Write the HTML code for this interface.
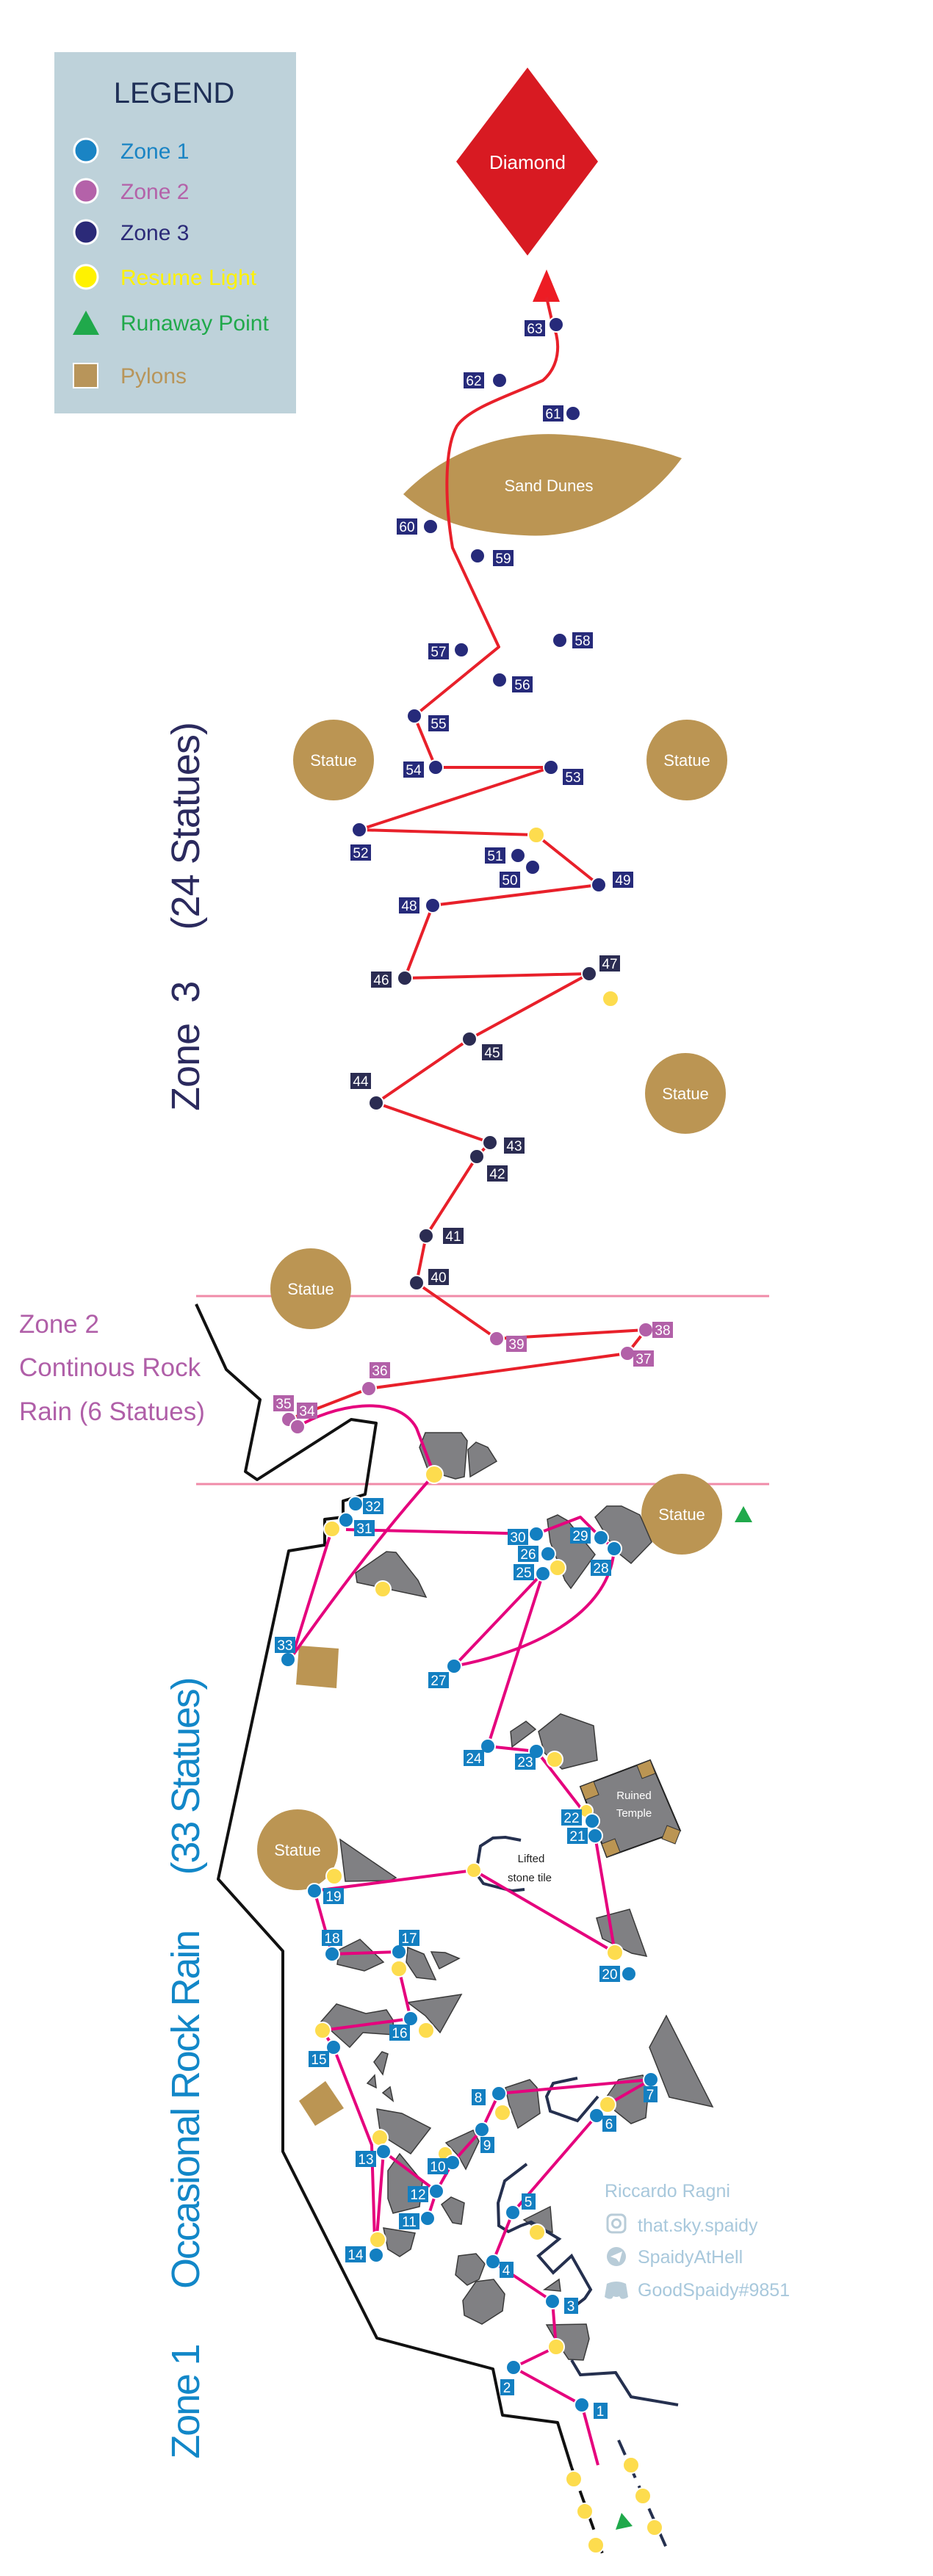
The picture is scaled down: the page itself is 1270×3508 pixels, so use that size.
<!DOCTYPE html>
<html><head><meta charset="utf-8"><style>
html,body{margin:0;padding:0;background:#fff}
svg{display:block}
text{font-family:"Liberation Sans",sans-serif}
.r{fill:none;stroke:#e8202a;stroke-width:4;stroke-linejoin:round}
.m{fill:none;stroke:#e5007d;stroke-width:4;stroke-linejoin:round}
.rk{fill:#808083;stroke:#3a3a3a;stroke-width:1.5}
.nv{fill:none;stroke:#25304f;stroke-width:4}
.d3{fill:#262a7a;stroke:#fff;stroke-width:2}
.d3b{fill:#2b2c52;stroke:#fff;stroke-width:2}
.d2{fill:#b260a8;stroke:#fff;stroke-width:2}
.d1{fill:#137fc1;stroke:#fff;stroke-width:2}
.y{fill:#fddc4e;stroke:#fff;stroke-width:2}
.st{fill:#bb9553}
.stt{fill:#fff;font-size:22px;text-anchor:middle}
.lb{fill:#fff;font-size:19px;text-anchor:middle}
</style></head><body>
<svg width="1270" height="3508" viewBox="0 0 1270 3508" xmlns="http://www.w3.org/2000/svg">
<!-- legend -->
<rect x="74" y="71" width="329" height="492" fill="#bed2da"/>
<text x="237" y="140" font-size="40" fill="#1f3057" text-anchor="middle">LEGEND</text>
<circle cx="117" cy="205" r="16" fill="#1a84c4" stroke="#fff" stroke-width="3"/>
<circle cx="117" cy="260" r="16" fill="#b462a9" stroke="#fff" stroke-width="3"/>
<circle cx="117" cy="316" r="16" fill="#2b2a78" stroke="#fff" stroke-width="3"/>
<circle cx="117" cy="377" r="16" fill="#fff200" stroke="#fff" stroke-width="3"/>
<polygon points="117,423 99,456 135,456" fill="#20a94b"/>
<rect x="100" y="495" width="33" height="33" fill="#b8955a" stroke="#fff" stroke-width="2"/>
<g font-size="30">
<text x="164" y="216" fill="#1a84c4">Zone 1</text>
<text x="164" y="271" fill="#b462a9">Zone 2</text>
<text x="164" y="327" fill="#2b2a78">Zone 3</text>
<text x="164" y="388" fill="#fff200">Resume Light</text>
<text x="164" y="450" fill="#20a94b">Runaway Point</text>
<text x="164" y="522" fill="#b8955a">Pylons</text>
</g>
<!-- diamond -->
<polygon points="718,92 814,220 718,348 621,220" fill="#d81a22"/>
<text x="718" y="230" font-size="26" fill="#fff" text-anchor="middle">Diamond</text>
<!-- sand dunes -->
<path d="M549,673 C600,620 680,585 769,592 C830,596 890,610 928,624 C880,690 800,735 713,729 C640,725 590,710 549,673 Z" fill="#bb9553"/>
<text x="747" y="669" font-size="22" fill="#fff" text-anchor="middle">Sand Dunes</text>
<!-- statues -->
<g>
<circle class="st" cx="454" cy="1035" r="55"/><text class="stt" x="454" y="1043">Statue</text>
<circle class="st" cx="935" cy="1035" r="55"/><text class="stt" x="935" y="1043">Statue</text>
<circle class="st" cx="933" cy="1489" r="55"/><text class="stt" x="933" y="1497">Statue</text>
</g>
<!-- zone lines -->
<line x1="267" y1="1765" x2="1047" y2="1765" stroke="#f08ba8" stroke-width="3"/>
<line x1="267" y1="2021" x2="1047" y2="2021" stroke="#f08ba8" stroke-width="3"/>
<circle class="st" cx="423" cy="1755" r="55"/><text class="stt" x="423" y="1763">Statue</text>
<circle class="st" cx="928" cy="2062" r="55"/><text class="stt" x="928" y="2070">Statue</text>
<circle class="st" cx="405" cy="2519" r="55"/><text class="stt" x="405" y="2527">Statue</text>
<polygon points="1012,2051 1000,2073 1024,2073" fill="#20a94b"/>
<!-- vertical texts -->
<text transform="translate(271,1248) rotate(-90)" text-anchor="middle" font-size="54" fill="#2b2a5e" textLength="530" xml:space="preserve">Zone  3     (24 Statues)</text>
<text transform="translate(271,2816) rotate(-90)" text-anchor="middle" font-size="54" fill="#1287c8" textLength="1065" xml:space="preserve">Zone 1      Occasional Rock Rain      (33 Statues)</text>
<g font-size="35" fill="#b05fa8">
<text x="26" y="1815">Zone 2</text>
<text x="26" y="1874">Continous Rock</text>
<text x="26" y="1934">Rain (6 Statues)</text>
</g>
<!-- black boundary -->
<polyline fill="none" stroke="#111" stroke-width="4" stroke-linejoin="round" points="267,1776 308,1865 354,1906 334,2004 350,2015 478,1933 512,1938 497,2035 467,2044 467,2066 442,2069 442,2104 393,2112 297,2559 385,2657 385,2930 513,3184 671,3226 684,3289 759,3299 778,3360"/>
<line x1="778" y1="3360" x2="822" y2="3483" stroke="#111" stroke-width="4" stroke-dasharray="22,12"/>
<line x1="842" y1="3323" x2="909" y2="3474" stroke="#25304f" stroke-width="4" stroke-dasharray="22,12"/>
<!-- rocks -->
<g class="rk">
<polygon points="579,1951 628,1951 636,1962 632,2011 620,2014 583,2003 571,1971"/>
<polygon points="637,1974 648,1964 664,1971 676,1990 640,2011"/>
<polygon points="484,2142 526,2113 539,2114 569,2152 580,2175 486,2155"/>
<polygon points="745,2069 759,2063 773,2071 810,2117 777,2163 769,2152 749,2100"/>
<polygon points="810,2066 826,2051 846,2051 871,2063 887,2100 859,2129 838,2112"/>
<polygon points="695,2358 716,2344 729,2355 697,2379"/>
<polygon points="733,2358 763,2334 808,2350 813,2397 765,2409 741,2387"/>
<polygon points="463,2505 539,2557 531,2561 470,2562"/>
<polygon points="812,2612 857,2600 880,2664 860,2660 820,2640"/>
<polygon points="462,2655 490,2641 522,2672 496,2684 459,2675"/>
<polygon points="555,2652 577,2661 593,2696 567,2693 553,2672"/>
<polygon points="587,2658 606,2659 625,2667 598,2681"/>
<polygon points="437,2753 458,2729 498,2742 526,2737 535,2751 536,2771 494,2768 476,2788"/>
<polygon points="555,2727 628,2716 599,2768 579,2745"/>
<polygon points="509,2808 520,2794 528,2797 521,2825"/>
<polygon points="500,2837 510,2826 512,2843"/>
<polygon points="521,2850 531,2842 535,2861"/>
<polygon points="513,2872 547,2878 586,2898 559,2933 518,2907"/>
<polygon points="528,2956 544,2933 575,2971 571,3005 535,3014 528,2994"/>
<polygon points="601,3002 614,2992 632,3000 628,3029 616,3027"/>
<polygon points="522,3034 565,3041 559,3063 544,3073 528,3063"/>
<polygon points="607,2918 644,2901 652,2916 634,2954 624,2936"/>
<polygon points="688,2843 721,2832 731,2843 735,2878 705,2898 693,2866"/>
<polygon points="884,2788 907,2745 970,2869 911,2856"/>
<polygon points="826,2855 842,2832 875,2826 883,2843 879,2884 859,2892 834,2872"/>
<polygon points="713,3023 749,3005 752,3040 725,3031"/>
<polygon points="624,3072 648,3069 660,3083 652,3104 636,3112 620,3098"/>
<polygon points="648,3107 672,3104 687,3124 684,3147 656,3165 632,3153 630,3133"/>
<polygon points="741,3118 761,3104 763,3120"/>
<polygon points="744,3166 798,3165 802,3185 794,3214 774,3213 757,3188"/>
</g>
<!-- pylons -->
<polygon points="407,2241 461,2245 458,2299 403,2294" fill="#bb9553"/>
<polygon points="407,2861 443,2834 468,2871 429,2895" fill="#bb9553"/>
<!-- ruined temple -->
<polygon points="790,2433 885,2397 926,2493 826,2529" fill="#808083" stroke="#222" stroke-width="2"/>
<g fill="#bb9553" stroke="#333" stroke-width="1">
<polygon points="790,2433 808,2426 815,2444 797,2451"/>
<polygon points="867,2404 885,2397 892,2415 874,2422"/>
<polygon points="908,2486 926,2493 919,2511 901,2504"/>
<polygon points="826,2529 844,2522 837,2504 819,2511"/>
</g>
<text x="863" y="2450" font-size="15" fill="#fff" text-anchor="middle">Ruined</text>
<text x="863" y="2474" font-size="15" fill="#fff" text-anchor="middle">Temple</text>
<!-- lifted stone tile -->
<polyline class="nv" points="709,2506 688,2502 671,2503 654,2514 648,2551 658,2565 697,2575 714,2573"/>
<text x="723" y="2536" font-size="15" fill="#222" text-anchor="middle">Lifted</text>
<text x="721" y="2562" font-size="15" fill="#222" text-anchor="middle">stone tile</text>
<!-- navy outlines -->
<polyline class="nv" points="786,2830 753,2837 744,2855 749,2875 786,2888 814,2855"/>
<polyline class="nv" points="717,2947 687,2970 678,3000 679,3031 692,3039 709,3031 723,3026 761,3049 733,3072 753,3095 778,3072 804,3118 796,3130 778,3144"/>
<polyline class="nv" points="778,3214 790,3234 838,3231 859,3264 923,3275"/>
<!-- red path -->
<polygon points="744,367 725,411 762,411" fill="#ed1c24"/>
<path class="r" d="M744,405 L752,440 C765,470 760,500 739,518 C690,540 640,555 622,580 C605,610 605,680 616,746 L679,881 L564,975 L593,1045 L750,1045 L489,1130 L730,1137 L815,1205 L589,1233 L551,1332 L802,1326 L639,1415 L512,1502 L667,1556 L649,1575 L580,1683 L567,1747 L676,1823 L879,1811 L854,1843 L502,1891 L393,1933"/>
<!-- magenta -->
<g class="m">
<path d="M405,1943 C450,1915 540,1895 567,1945 L591,2008"/>
<path d="M591,2008 Q500,2110 398,2255"/>
<path d="M452,2082 L398,2255"/>
<path d="M471,2083 L730,2089 L790,2066 L818,2094 L836,2109"/>
<path d="M836,2109 C830,2200 720,2250 618,2269"/>
<path d="M733,2148 L618,2269"/>
<path d="M739,2143 L664,2378 L730,2385"/>
<path d="M737,2393 L795,2468"/>
<path d="M810,2500 L837,2659"/>
<path d="M428,2575 L645,2547 L837,2659"/>
<path d="M428,2575 L452,2661 L543,2658"/>
<path d="M543,2681 L559,2749 L439,2765 L454,2788 L506,2921 L510,3050"/>
<path d="M522,2930 L513,3046"/>
<path d="M522,2930 L594,2984 L582,3021"/>
<path d="M594,2984 L616,2945 L656,2900 L679,2851 L886,2832 L827,2866"/>
<path d="M812,2881 L698,3013 L671,3080 L752,3134 L757,3196 L699,3224 L792,3275 L814,3357"/>
</g>
<!-- zone3 dots -->
<g class="d3">
<circle cx="757" cy="442" r="10"/><circle cx="680" cy="518" r="10"/><circle cx="780" cy="563" r="10"/>
<circle cx="586" cy="717" r="10"/><circle cx="650" cy="757" r="10"/><circle cx="762" cy="872" r="10"/>
<circle cx="628" cy="885" r="10"/><circle cx="680" cy="926" r="10"/><circle cx="564" cy="975" r="10"/>
<circle cx="593" cy="1045" r="10"/><circle cx="750" cy="1045" r="10"/><circle cx="489" cy="1130" r="10"/>
<circle cx="705" cy="1165" r="10"/><circle cx="725" cy="1181" r="10"/><circle cx="815" cy="1205" r="10"/>
<circle cx="589" cy="1233" r="10"/>
</g>
<g class="d3b">
<circle cx="551" cy="1332" r="10"/><circle cx="802" cy="1326" r="10"/><circle cx="639" cy="1415" r="10"/>
<circle cx="512" cy="1502" r="10"/><circle cx="667" cy="1556" r="10"/><circle cx="649" cy="1575" r="10"/>
<circle cx="580" cy="1683" r="10"/><circle cx="567" cy="1747" r="10"/>
</g>
<g class="d2">
<circle cx="676" cy="1823" r="10"/><circle cx="879" cy="1811" r="10"/><circle cx="854" cy="1843" r="10"/>
<circle cx="502" cy="1891" r="10"/><circle cx="393" cy="1933" r="10"/><circle cx="405" cy="1943" r="10"/>
</g>
<!-- yellow -->
<g class="y">
<circle cx="730" cy="1137" r="11"/><circle cx="831" cy="1360" r="11"/><circle cx="591" cy="2008" r="12"/>
<circle cx="452" cy="2082" r="11"/><circle cx="521" cy="2164" r="11"/><circle cx="759" cy="2135" r="11"/>
<circle cx="755" cy="2396" r="11"/><circle cx="798" cy="2466" r="9"/><circle cx="455" cy="2555" r="11"/>
<circle cx="645" cy="2547" r="10"/><circle cx="837" cy="2659" r="11"/><circle cx="543" cy="2681" r="11"/>
<circle cx="580" cy="2765" r="11"/><circle cx="439" cy="2765" r="11"/><circle cx="517" cy="2911" r="11"/>
<circle cx="606" cy="2933" r="10"/><circle cx="514" cy="3050" r="11"/><circle cx="684" cy="2877" r="11"/>
<circle cx="827" cy="2866" r="11"/><circle cx="731" cy="3040" r="11"/><circle cx="757" cy="3196" r="11"/>
<circle cx="781" cy="3376" r="11"/><circle cx="796" cy="3420" r="11"/><circle cx="811" cy="3466" r="11"/>
<circle cx="859" cy="3357" r="11"/><circle cx="875" cy="3399" r="11"/><circle cx="891" cy="3442" r="11"/>
</g>
<polygon points="838,3445 846,3422 861,3440" fill="#20a94b"/>
<!-- zone1 dots -->
<g class="d1">
<circle cx="392" cy="2260" r="10"/><circle cx="484" cy="2048" r="10"/><circle cx="471" cy="2070" r="10"/>
<circle cx="730" cy="2089" r="10"/><circle cx="818" cy="2094" r="10"/><circle cx="836" cy="2109" r="10"/>
<circle cx="746" cy="2116" r="10"/><circle cx="739" cy="2143" r="10"/><circle cx="618" cy="2269" r="10"/>
<circle cx="664" cy="2378" r="10"/><circle cx="730" cy="2385" r="10"/><circle cx="806" cy="2480" r="10"/>
<circle cx="810" cy="2500" r="10"/><circle cx="856" cy="2688" r="10"/><circle cx="428" cy="2575" r="10"/>
<circle cx="452" cy="2661" r="10"/><circle cx="543" cy="2658" r="10"/><circle cx="559" cy="2749" r="10"/>
<circle cx="454" cy="2788" r="10"/><circle cx="522" cy="2930" r="10"/><circle cx="594" cy="2984" r="10"/>
<circle cx="582" cy="3021" r="10"/><circle cx="512" cy="3071" r="10"/><circle cx="616" cy="2945" r="10"/>
<circle cx="656" cy="2900" r="10"/><circle cx="679" cy="2851" r="10"/><circle cx="886" cy="2832" r="10"/>
<circle cx="812" cy="2881" r="10"/><circle cx="698" cy="3013" r="10"/><circle cx="671" cy="3080" r="10"/>
<circle cx="752" cy="3134" r="10"/><circle cx="699" cy="3224" r="10"/><circle cx="792" cy="3275" r="10"/>
</g>
<!-- labels zone3 -->
<g fill="#262a7a">
<rect x="714" y="436" width="28" height="22"/><rect x="631" y="507" width="28" height="22"/><rect x="739" y="552" width="28" height="22"/>
<rect x="540" y="706" width="28" height="22"/><rect x="671" y="749" width="28" height="22"/><rect x="779" y="861" width="28" height="22"/>
<rect x="583" y="876" width="28" height="22"/><rect x="697" y="921" width="28" height="22"/><rect x="583" y="974" width="28" height="22"/>
<rect x="549" y="1037" width="28" height="22"/><rect x="766" y="1047" width="28" height="22"/><rect x="477" y="1150" width="28" height="22"/>
<rect x="660" y="1154" width="28" height="22"/><rect x="680" y="1187" width="28" height="22"/><rect x="834" y="1187" width="28" height="22"/>
<rect x="543" y="1222" width="28" height="22"/>
</g>
<g fill="#2b2c52">
<rect x="505" y="1323" width="28" height="22"/><rect x="816" y="1301" width="28" height="22"/><rect x="656" y="1422" width="28" height="22"/>
<rect x="477" y="1461" width="28" height="22"/><rect x="686" y="1549" width="28" height="22"/><rect x="663" y="1587" width="28" height="22"/>
<rect x="603" y="1672" width="28" height="22"/><rect x="583" y="1728" width="28" height="22"/>
</g>
<g fill="#b260a8">
<rect x="689" y="1819" width="28" height="22"/><rect x="888" y="1800" width="28" height="22"/><rect x="862" y="1839" width="28" height="22"/>
<rect x="503" y="1855" width="28" height="22"/><rect x="372" y="1900" width="28" height="22"/><rect x="404" y="1910" width="28" height="22"/>
</g>
<g fill="#137fc1">
<rect x="374" y="2229" width="28" height="22"/><rect x="494" y="2040" width="28" height="22"/><rect x="482" y="2070" width="28" height="22"/>
<rect x="691" y="2082" width="28" height="22"/><rect x="776" y="2080" width="28" height="22"/><rect x="804" y="2124" width="28" height="22"/>
<rect x="583" y="2277" width="28" height="22"/><rect x="705" y="2105" width="28" height="22"/><rect x="699" y="2130" width="28" height="22"/>
<rect x="631" y="2383" width="28" height="22"/><rect x="701" y="2388" width="28" height="22"/><rect x="764" y="2464" width="28" height="22"/>
<rect x="772" y="2489" width="28" height="22"/><rect x="816" y="2677" width="28" height="22"/><rect x="440" y="2571" width="28" height="22"/>
<rect x="438" y="2628" width="28" height="22"/><rect x="543" y="2628" width="28" height="22"/><rect x="530" y="2757" width="28" height="22"/>
<rect x="420" y="2793" width="28" height="22"/><rect x="470" y="3059" width="28" height="22"/><rect x="484" y="2929" width="28" height="22"/>
<rect x="555" y="2977" width="28" height="22"/><rect x="543" y="3014" width="28" height="22"/><rect x="582" y="2939" width="28" height="22"/>
<rect x="654" y="2910" width="19" height="22"/><rect x="642" y="2845" width="19" height="22"/><rect x="876" y="2841" width="19" height="22"/>
<rect x="820" y="2881" width="19" height="22"/><rect x="710" y="2987" width="19" height="22"/><rect x="680" y="3080" width="19" height="22"/>
<rect x="768" y="3129" width="19" height="22"/><rect x="681" y="3240" width="19" height="22"/><rect x="808" y="3272" width="19" height="22"/>
</g>
<g class="lb">
<text x="728" y="454">63</text><text x="645" y="525">62</text><text x="753" y="570">61</text>
<text x="554" y="724">60</text><text x="685" y="767">59</text><text x="793" y="879">58</text>
<text x="597" y="894">57</text><text x="711" y="939">56</text><text x="597" y="992">55</text>
<text x="563" y="1055">54</text><text x="780" y="1065">53</text><text x="491" y="1168">52</text>
<text x="674" y="1172">51</text><text x="694" y="1205">50</text><text x="848" y="1205">49</text>
<text x="557" y="1240">48</text><text x="519" y="1341">46</text><text x="830" y="1319">47</text>
<text x="670" y="1440">45</text><text x="491" y="1479">44</text><text x="700" y="1567">43</text>
<text x="677" y="1605">42</text><text x="617" y="1690">41</text><text x="597" y="1746">40</text>
<text x="703" y="1837">39</text><text x="902" y="1818">38</text><text x="876" y="1857">37</text>
<text x="517" y="1873">36</text><text x="386" y="1918">35</text><text x="418" y="1928">34</text>
<text x="388" y="2247">33</text><text x="508" y="2058">32</text><text x="496" y="2088">31</text>
<text x="705" y="2100">30</text><text x="790" y="2098">29</text><text x="818" y="2142">28</text>
<text x="597" y="2295">27</text><text x="719" y="2123">26</text><text x="713" y="2148">25</text>
<text x="645" y="2401">24</text><text x="715" y="2406">23</text><text x="778" y="2482">22</text>
<text x="786" y="2507">21</text><text x="830" y="2695">20</text><text x="454" y="2589">19</text>
<text x="452" y="2646">18</text><text x="557" y="2646">17</text><text x="544" y="2775">16</text>
<text x="434" y="2811">15</text><text x="484" y="3077">14</text><text x="498" y="2947">13</text>
<text x="569" y="2995">12</text><text x="557" y="3032">11</text><text x="596" y="2957">10</text>
<text x="663" y="2928">9</text><text x="651" y="2863">8</text><text x="885" y="2859">7</text>
<text x="829" y="2899">6</text><text x="719" y="3005">5</text><text x="689" y="3098">4</text>
<text x="777" y="3147">3</text><text x="690" y="3258">2</text><text x="817" y="3290">1</text>
</g>
<!-- credits -->
<g fill="#a8c8dc" font-size="25">
<text x="823" y="2992">Riccardo Ragni</text>
<text x="868" y="3039">that.sky.spaidy</text>
<text x="868" y="3082">SpaidyAtHell</text>
<text x="868" y="3127">GoodSpaidy#9851</text>
</g>
<rect x="827" y="3016" width="24" height="24" rx="6" fill="none" stroke="#b8ccd8" stroke-width="3"/>
<circle cx="839" cy="3028" r="5.5" fill="none" stroke="#b8ccd8" stroke-width="3"/>
<circle cx="839" cy="3073" r="13" fill="#b8ccd8"/>
<polygon points="831,3073 847,3066 843,3081 839,3076" fill="#fff"/>
<path d="M826,3110 Q839,3104 852,3110 L855,3128 Q849,3132 845,3130 L843,3127 Q839,3129 835,3127 L833,3130 Q829,3132 823,3128 Z" fill="#b8ccd8"/>
</svg>
</body></html>
